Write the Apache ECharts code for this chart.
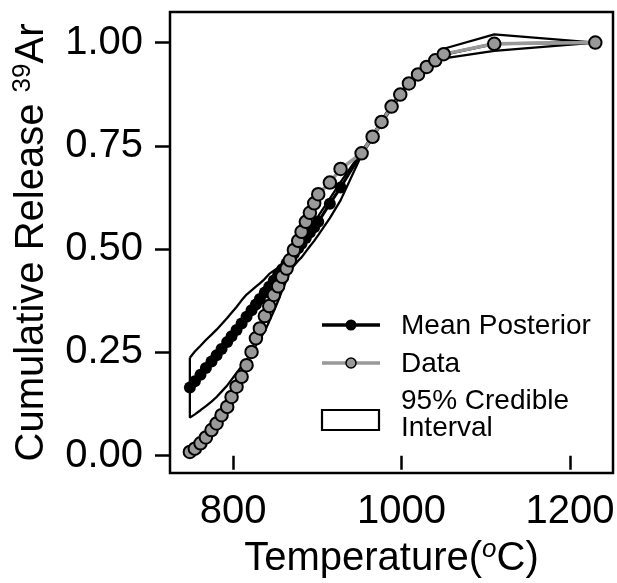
<!DOCTYPE html>
<html>
<head>
<meta charset="utf-8">
<script src="https://cdn.jsdelivr.net/npm/echarts@6/dist/echarts.min.js"></script>
<style>
html,body{margin:0;padding:0;background:#fff;}
#chart{width:617px;height:583px;}
</style>
</head>
<body>
<div id="chart"></div>
<script>
// Heating-step temperatures (deg C)
var temps = [748.6,754.5,761.2,767.6,774.3,780.3,786.2,792.9,798.1,804.0,810.0,815.9,821.8,827.0,831.7,837.6,842.8,848.3,853.4,858.2,863.4,867.3,872.1,877.2,881.2,886.3,891.1,896.2,901.0,914.8,927.5,952.5,965.6,976.2,988.1,998.4,1008.7,1019.5,1029.8,1040.0,1050.0,1110.0,1230.0];
// Observed cumulative release (Data)
var dataRelease = [0.009,0.017,0.030,0.044,0.062,0.078,0.098,0.118,0.142,0.167,0.191,0.219,0.251,0.284,0.308,0.338,0.362,0.389,0.410,0.433,0.453,0.473,0.498,0.520,0.542,0.566,0.588,0.611,0.633,0.661,0.694,0.732,0.772,0.808,0.845,0.874,0.901,0.923,0.941,0.957,0.972,0.997,1.000];
// Mean posterior
var meanPosterior = [0.165,0.180,0.196,0.212,0.228,0.243,0.258,0.275,0.289,0.304,0.320,0.336,0.352,0.366,0.379,0.395,0.409,0.424,0.438,0.451,0.465,0.476,0.489,0.502,0.513,0.527,0.540,0.553,0.566,0.610,0.649,0.732,0.772,0.808,0.845,0.874,0.901,0.923,0.941,0.957,0.971,0.997,1.000];
// 95% credible interval bounds
var ciUpper = [0.237,0.252,0.266,0.280,0.293,0.305,0.318,0.333,0.346,0.360,0.376,0.390,0.400,0.409,0.417,0.428,0.440,0.448,0.455,0.462,0.474,0.485,0.498,0.512,0.524,0.538,0.552,0.566,0.580,0.622,0.662,0.736,0.776,0.812,0.849,0.878,0.905,0.928,0.947,0.964,0.985,1.020,1.000];
var ciLower = [0.092,0.100,0.110,0.120,0.131,0.142,0.155,0.170,0.184,0.200,0.216,0.232,0.250,0.267,0.282,0.302,0.325,0.350,0.375,0.400,0.425,0.445,0.460,0.472,0.480,0.494,0.507,0.520,0.534,0.575,0.618,0.728,0.768,0.804,0.841,0.870,0.897,0.918,0.935,0.950,0.962,0.980,1.000];
// Tick labels
var xTicks = [800,1000,1200];
var yTicks = [0,0.25,0.5,0.75,1.0];

var FONT = 'Liberation Sans, Arial, sans-serif';

var polygon = [];
for (var i = 0; i < temps.length; i++) polygon.push([temps[i], ciUpper[i]]);
for (var j = temps.length - 1; j >= 0; j--) polygon.push([temps[j], ciLower[j]]);
polygon.push([temps[0], ciUpper[0]]);

var chart = echarts.init(document.getElementById('chart'), null, {renderer:'canvas'});
chart.setOption({
  animation: false,
  backgroundColor: '#fff',
  grid: {left:170, right:4, top:12, bottom:110, show:true, borderColor:'#000', borderWidth:2.5,
         backgroundColor:'transparent', containLabel:false, outerBoundsMode:'none'},
  xAxis: {
    type:'value', min:725, max:1251,
    axisLine:{show:false},
    splitLine:{show:false},
    axisTick:{show:true, inside:false, length:14, customValues:xTicks, lineStyle:{color:'#000', width:2.5}},
    axisLabel:{customValues:xTicks, fontSize:40, color:'#000', fontFamily:FONT, margin:19,
      formatter:function(v){return String(v);}},
    name:'Temperature({s|o}C)', nameLocation:'middle', nameGap:64,
    nameTextStyle:{fontSize:40, color:'#000', fontFamily:FONT, lineHeight:44,
      rich:{s:{fontSize:26, fontStyle:'italic', color:'#000', fontFamily:FONT, verticalAlign:'top', lineHeight:26}}}
  },
  yAxis: {
    type:'value', min:-0.042, max:1.074,
    axisLine:{show:false},
    splitLine:{show:false},
    axisTick:{show:true, inside:false, length:15, customValues:yTicks, lineStyle:{color:'#000', width:2.5}},
    axisLabel:{customValues:yTicks, fontSize:40, color:'#000', fontFamily:FONT, margin:27,
      formatter:function(v){return v.toFixed(2);}},
    name:'Cumulative Release {s|39}Ar', nameLocation:'middle', nameGap:98,
    nameTextStyle:{fontSize:40, color:'#000', fontFamily:FONT, lineHeight:44,
      rich:{s:{fontSize:26, color:'#000', fontFamily:FONT, verticalAlign:'top', lineHeight:26}}}
  },
  series: [
    {name:'95% Credible Interval', type:'line', data:polygon, showSymbol:false, symbol:'none',
     lineStyle:{color:'#000', width:2.3}, z:2, silent:true},
    {name:'Mean Posterior', type:'line', data:temps.map(function(t,i){return [t, meanPosterior[i]];}),
     symbol:'circle', symbolSize:12, showSymbol:true, showAllSymbol:true,
     lineStyle:{color:'#000', width:3}, itemStyle:{color:'#000'}, z:3},
    {name:'Data', type:'line', data:temps.map(function(t,i){return [t, dataRelease[i]];}),
     symbol:'circle', symbolSize:12.5, showSymbol:true, showAllSymbol:true,
     lineStyle:{color:'#999', width:3.5}, itemStyle:{color:'#999', borderColor:'#000', borderWidth:2}, z:4}
  ],
  graphic: [
    {type:'line', shape:{x1:322,y1:325,x2:380,y2:325}, style:{stroke:'#000', lineWidth:3.5}},
    {type:'circle', shape:{cx:351,cy:325,r:5.5}, style:{fill:'#000'}},
    {type:'text', x:401, y:326, style:{text:'Mean Posterior', fontSize:28, fontFamily:FONT, fill:'#000', verticalAlign:'middle'}},
    {type:'line', shape:{x1:322,y1:363,x2:380,y2:363}, style:{stroke:'#999', lineWidth:3.5}},
    {type:'circle', shape:{cx:351,cy:363,r:5}, style:{fill:'#999', stroke:'#000', lineWidth:1.5}},
    {type:'text', x:401, y:364, style:{text:'Data', fontSize:28, fontFamily:FONT, fill:'#000', verticalAlign:'middle'}},
    {type:'rect', shape:{x:322,y:410,width:57,height:20}, style:{fill:'#fff', stroke:'#000', lineWidth:2.2}},
    {type:'text', x:401, y:415, style:{text:'95% Credible\nInterval', fontSize:28, lineHeight:26.5, fontFamily:FONT, fill:'#000', verticalAlign:'middle'}}
  ]
});
</script>
</body>
</html>
